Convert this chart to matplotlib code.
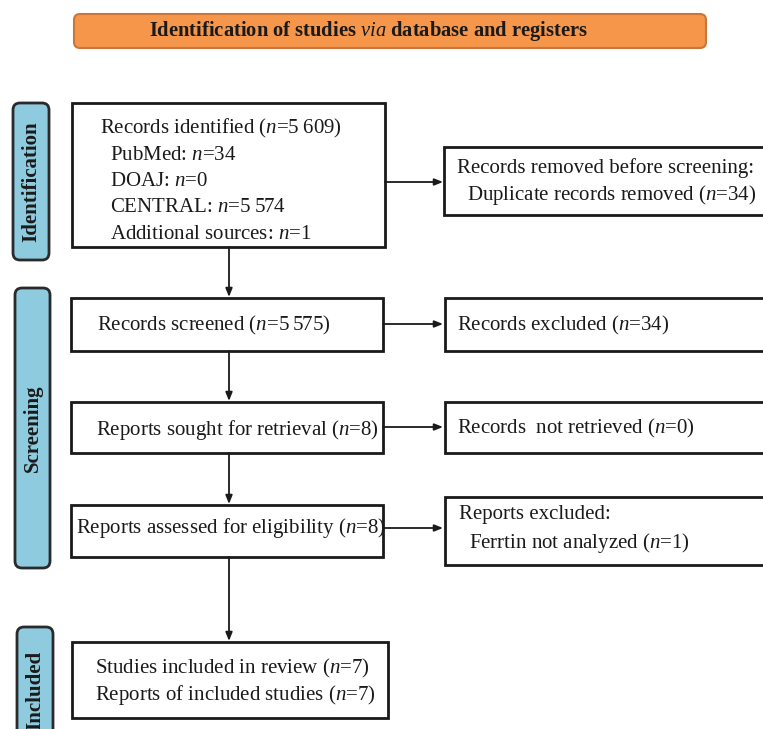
import matplotlib.pyplot as plt
from matplotlib.patches import FancyBboxPatch, Rectangle

plt.rcParams['font.family'] = ['Liberation Serif', 'DejaVu Serif']
plt.rcParams['mathtext.fontset'] = 'custom'
plt.rcParams['mathtext.rm'] = 'Liberation Serif'
plt.rcParams['mathtext.it'] = 'Liberation Serif:italic'

# counts in the PRISMA flow
identified = '5\u2009609'
pubmed = 34
doaj = 0
central = '5\u2009574'
additional = 1
duplicates = 34
screened = '5\u2009575'
excluded = 34
sought = 8
not_retrieved = 0
assessed = 8
ferritin_excluded = 1
studies_included = 7
reports_included = 7

stages = ['Identification', 'Screening', 'Included']

fig = plt.figure(figsize=(7.63, 7.29), dpi=100)
ax = fig.add_axes([0, 0, 1, 1])
ax.set_xlim(0, 763)
ax.set_ylim(729, 0)
ax.axis('off')

fs = 15
dark = '#1a1a1a'

# title banner
ax.add_patch(FancyBboxPatch((74, 14), 632, 34, boxstyle='round,pad=0,rounding_size=6',
                            fc='#F5964A', ec='#C8763A', lw=1.5))
ax.text(368, 31, 'Identification of studies $via$ database and registers',
        ha='center', va='center', fontsize=14.8, fontweight='bold', color='#1a1a1a')

# stage labels on the left
side = [(13, 103, 36, 157), (15, 288, 35, 280), (17, 627, 36, 120)]
for (x, y, w, h), name in zip(side, stages):
    ax.add_patch(FancyBboxPatch((x, y), w, h, boxstyle='round,pad=0,rounding_size=7',
                                fc='#8FCBDF', ec='#2a2a2a', lw=2))
    cy = y + h / 2 if name != 'Included' else 690
    ax.text(x + w / 2, cy, name, rotation=90, ha='center', va='center',
            fontsize=15, fontweight='bold', color=dark)

# main column boxes
main = [(72, 103, 313, 144), (71, 298, 312, 53), (71, 402, 312, 51),
        (71, 505, 312, 52), (72, 642, 316, 76)]
for x, y, w, h in main:
    ax.add_patch(Rectangle((x, y), w, h, fc='white', ec=dark, lw=2))

# right column boxes
right = [(444, 147, 340, 68), (445, 298, 340, 53), (445, 402, 340, 51), (445, 497, 340, 68)]
for x, y, w, h in right:
    ax.add_patch(Rectangle((x, y), w, h, fc='white', ec=dark, lw=2))

# texts
lines = [
    (100, 128, f'Records identified ($n$={identified})'),
    (110, 155, f'PubMed: $n$={pubmed}'),
    (110, 181, f'DOAJ: $n$={doaj}'),
    (110, 207, f'CENTRAL: $n$={central}'),
    (110, 234, f'Additional sources: $n$={additional}'),
    (457, 168, 'Records removed before screening:'),
    (467, 195, f'Duplicate records removed ($n$={duplicates})'),
    (97, 325, f'Records screened ($n$={screened})'),
    (457, 325, f'Records excluded ($n$={excluded})'),
    (96, 430, f'Reports sought for retrieval ($n$={sought})'),
    (457, 428, f'Records  not retrieved ($n$={not_retrieved})'),
    (76, 528, f'Reports assessed for eligibility ($n$={assessed})'),
    (459, 515, 'Reports excluded:'),
    (469, 543, f'Ferrtin not analyzed ($n$={ferritin_excluded})'),
    (95, 668, f'Studies included in review ($n$={studies_included})'),
    (95, 695, f'Reports of included studies ($n$={reports_included})'),
]
for x, y, s in lines:
    ax.text(x, y, s, ha='left', va='center', fontsize=fs, color=dark)

# arrows
arrow = dict(arrowstyle='-|>,head_length=0.5,head_width=0.2', color=dark, lw=1.3,
             shrinkA=0, shrinkB=0)
for y0, y1 in [(247, 297), (351, 401), (453, 504), (557, 641)]:
    ax.annotate('', xy=(229, y1), xytext=(229, y0), arrowprops=arrow)
for x0, y in [(385, 182), (383, 324), (383, 427), (383, 528)]:
    ax.annotate('', xy=(443, y), xytext=(x0, y), arrowprops=arrow)

fig.savefig('out.png', dpi=100, facecolor='white')
